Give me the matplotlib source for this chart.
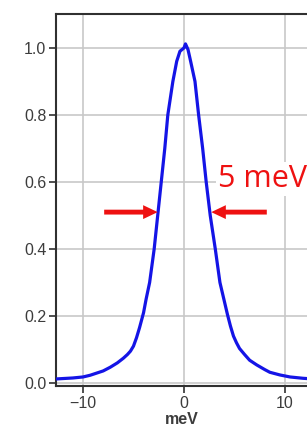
import matplotlib
matplotlib.use("Agg")
import matplotlib.pyplot as plt

# spectrum (meV, normalised intensity)
energy = [-12.7, -11.0, -10.0, -9.3, -8.6, -8.0, -7.3, -6.6, -6.0, -5.6,
          -5.3, -5.0, -4.7, -4.4, -4.0, -3.75, -3.4, -2.95, -2.6, -2.25,
          -1.9, -1.6, -1.1, -0.72, -0.4, 0.0, 0.15, 0.4, 0.66, 1.09,
          1.45, 1.85, 2.2, 2.6, 3.1, 3.56, 3.95, 4.3, 4.6, 4.9,
          5.2, 5.5, 6.0, 6.5, 7.2, 8.0, 8.5, 9.5, 10.5, 11.8, 12.3]
intensity = [0.012, 0.015, 0.018, 0.023, 0.030, 0.036, 0.047, 0.060, 0.074, 0.085,
             0.095, 0.11, 0.135, 0.165, 0.21, 0.25, 0.30, 0.40, 0.50, 0.60,
             0.70, 0.80, 0.90, 0.96, 0.99, 1.0, 1.012, 0.995, 0.96, 0.90,
             0.80, 0.70, 0.60, 0.50, 0.40, 0.30, 0.25, 0.205, 0.17, 0.14,
             0.12, 0.103, 0.085, 0.068, 0.054, 0.040, 0.032, 0.024, 0.018, 0.014, 0.013]

xticks = [-10, 0, 10]
yticks = [0.0, 0.2, 0.4, 0.6, 0.8, 1.0]
half_max = (-2.6, 2.7)
fwhm_label = "5 meV"

plt.rcParams["font.family"] = ["Liberation Sans", "DejaVu Sans"]

fig = plt.figure(figsize=(3.07, 4.40), dpi=100)
ax = fig.add_axes([0.1824, 0.1227, 0.8176, 0.8453])

ax.plot(energy, intensity, color="#1414e6", lw=2.3, zorder=3)

ax.set_xlim(-12.67, 12.18)
ax.set_ylim(-0.009, 1.101)
ax.set_xticks(xticks)
ax.set_yticks(yticks)
ax.set_yticklabels([f"{v:.1f}" for v in yticks])
ax.grid(True, color="#c8c8c8", lw=1.2)
ax.set_axisbelow(True)

for side in ("left", "bottom", "top"):
    ax.spines[side].set_color("#303030")
    ax.spines[side].set_linewidth(1.5)
ax.spines["right"].set_visible(False)
ax.tick_params(direction="out", length=5, width=1.2, color="#303030",
               labelsize=11.5, labelcolor="#3c3c3c", pad=2)
ax.set_xlabel("meV", fontsize=11.5, color="#3c3c3c", fontweight="bold", labelpad=1)

# FWHM arrows pointing at the half-maximum points
arrow = dict(arrowstyle="simple,head_width=1.0,head_length=1.05,tail_width=0.35",
             color="#ee1111", lw=0, shrinkA=0, shrinkB=0)
ax.annotate("", xy=(half_max[0], 0.51), xytext=(half_max[0] - 5.3, 0.51),
            arrowprops=arrow, zorder=4)
ax.annotate("", xy=(half_max[1], 0.51), xytext=(half_max[1] + 5.5, 0.51),
            arrowprops=arrow, zorder=4)

ax.text(3.35, 0.585, fwhm_label, fontsize=22, color="#ee1111",
        family=["Open Sans", "DejaVu Sans"], va="baseline", ha="left",
        bbox=dict(facecolor="white", edgecolor="none", pad=1.5),
        clip_on=False, zorder=5)

fig.savefig("out.png", dpi=100)
